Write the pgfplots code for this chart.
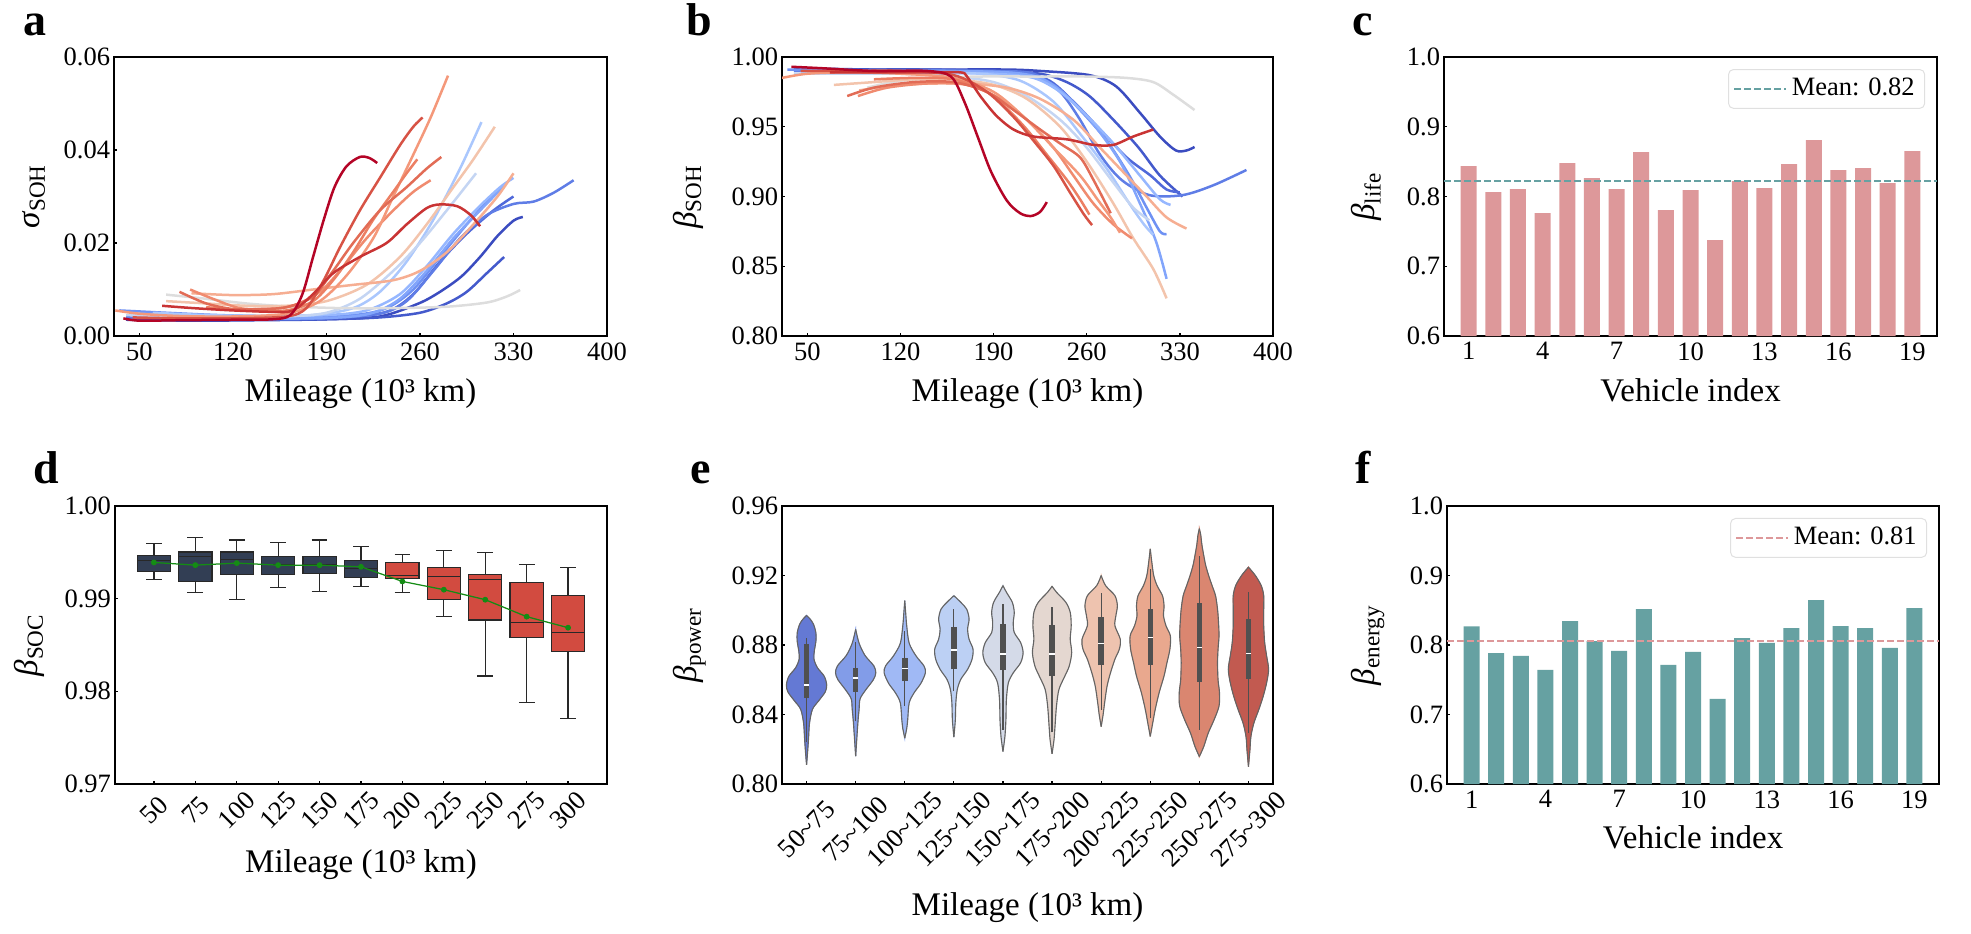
\documentclass[border=0pt]{standalone}
\usepackage{fontspec}
\setmainfont{Liberation Serif}
\usepackage{pgfplots}
\usepackage{pgfplotstable}
\pgfplotsset{compat=1.18}

\definecolor{c1}{RGB}{180,4,38}
\definecolor{c2}{RGB}{201,52,52}
\definecolor{c3}{RGB}{215,83,69}
\definecolor{c4}{RGB}{226,108,86}
\definecolor{c5}{RGB}{236,127,99}
\definecolor{c6}{RGB}{244,152,122}
\definecolor{c7}{RGB}{246,174,146}
\definecolor{c8}{RGB}{243,196,172}
\definecolor{c9}{RGB}{240,139,111}
\definecolor{c10}{RGB}{221,221,221}
\definecolor{c11}{RGB}{196,213,243}
\definecolor{c12}{RGB}{170,199,253}
\definecolor{c13}{RGB}{150,183,255}
\definecolor{c14}{RGB}{130,165,251}
\definecolor{c15}{RGB}{110,145,243}
\definecolor{c16}{RGB}{95,125,230}
\definecolor{c17}{RGB}{80,105,218}
\definecolor{c18}{RGB}{68,90,204}
\definecolor{c19}{RGB}{59,76,192}
\definecolor{barpink}{RGB}{221,152,154}
\definecolor{barteal}{RGB}{102,161,162}
\definecolor{navybox}{RGB}{50,62,84}
\definecolor{redbox}{RGB}{210,75,64}
\definecolor{boxedge}{RGB}{40,40,40}
\definecolor{meangreen}{RGB}{20,140,20}
\definecolor{vedge}{RGB}{100,100,100}
\definecolor{vin}{RGB}{80,80,80}
\definecolor{va}{RGB}{100,121,212}
\definecolor{vb}{RGB}{130,156,232}
\definecolor{vc}{RGB}{160,185,245}
\definecolor{vd}{RGB}{188,208,244}
\definecolor{ve}{RGB}{212,218,232}
\definecolor{vf}{RGB}{228,215,208}
\definecolor{vg}{RGB}{238,195,175}
\definecolor{vh}{RGB}{233,168,142}
\definecolor{vi}{RGB}{218,134,112}
\definecolor{vj}{RGB}{194,90,80}

% violin half-profiles: w = half width (category units), v = value
\pgfplotstableread{
w v
0 0.811
0.02 0.818
0.04 0.826
0.06 0.835
0.12 0.843
0.25 0.848
0.38 0.853
0.41 0.857
0.36 0.862
0.22 0.867
0.15 0.872
0.16 0.877
0.19 0.882
0.19 0.887
0.14 0.892
0.07 0.895
0 0.897
}\vA
\pgfplotstableread{
w v
0 0.816
0.03 0.829
0.05 0.837
0.07 0.843
0.09 0.849
0.20 0.854
0.36 0.860
0.41 0.864
0.37 0.868
0.19 0.874
0.07 0.881
0 0.889
}\vB
\pgfplotstableread{
w v
0 0.8264
0.04 0.832
0.06 0.837
0.09 0.8467
0.19 0.8525
0.33 0.858
0.42 0.864
0.39 0.868
0.23 0.8737
0.09 0.881
0.04 0.891
0.02 0.898
0 0.9055
}\vC
\pgfplotstableread{
w v
0 0.827
0.03 0.837
0.04 0.8467
0.07 0.8544
0.14 0.8602
0.28 0.866
0.37 0.8718
0.39 0.8776
0.31 0.8833
0.28 0.8891
0.31 0.895
0.26 0.9007
0.14 0.9046
0 0.9084
}\vD
\pgfplotstableread{
w v
0 0.8187
0.04 0.8274
0.06 0.837
0.07 0.8486
0.11 0.8583
0.21 0.864
0.36 0.8698
0.41 0.8756
0.36 0.8814
0.23 0.8872
0.21 0.893
0.23 0.8988
0.19 0.9046
0.07 0.9104
0 0.9142
}\vE
\pgfplotstableread{
w v
0 0.8174
0.04 0.8255
0.06 0.8332
0.09 0.8448
0.14 0.8544
0.26 0.8621
0.35 0.8679
0.40 0.8756
0.37 0.8833
0.39 0.8911
0.37 0.8988
0.28 0.9046
0.09 0.9104
0 0.9138
}\vF
\pgfplotstableread{
w v
0 0.833
0.04 0.840
0.07 0.8467
0.12 0.8563
0.19 0.864
0.28 0.8718
0.37 0.8776
0.39 0.8833
0.28 0.8911
0.30 0.8969
0.33 0.9026
0.28 0.9084
0.09 0.9142
0 0.920
}\vG
\pgfplotstableread{
w v
0 0.8274
0.05 0.8351
0.10 0.8428
0.18 0.8525
0.28 0.8621
0.34 0.8698
0.40 0.8776
0.41 0.8852
0.32 0.8911
0.27 0.8968
0.28 0.9026
0.25 0.9083
0.14 0.9141
0.07 0.920
0.03 0.928
0 0.9353
}\vH
\pgfplotstableread{
w v
0 0.8158
0.09 0.8216
0.18 0.8293
0.30 0.837
0.40 0.8448
0.41 0.8525
0.38 0.860
0.37 0.8698
0.38 0.8775
0.40 0.8852
0.39 0.893
0.37 0.9006
0.33 0.9083
0.26 0.9141
0.19 0.9199
0.13 0.9257
0.09 0.9314
0.05 0.938
0.03 0.943
0 0.947
}\vI
\pgfplotstableread{
w v
0 0.810
0.03 0.8197
0.05 0.8274
0.11 0.8351
0.21 0.8428
0.30 0.8505
0.37 0.8583
0.41 0.866
0.37 0.8737
0.33 0.8814
0.31 0.8911
0.31 0.9007
0.31 0.9084
0.26 0.9142
0.14 0.920
0 0.9248
}\vJ

\newcommand{\violin}[3]{%
 \addplot[fill=#3, draw=#3, line width=0.3pt, smooth, tension=0.5] table[x expr=#2+\thisrow{w}, y=v]{#1} -- cycle;
 \addplot[fill=#3, draw=#3, line width=0.3pt, smooth, tension=0.5] table[x expr=#2-\thisrow{w}, y=v]{#1} -- cycle;
 \addplot[vedge, line width=0.45pt, smooth, tension=0.5] table[x expr=#2+\thisrow{w}, y=v]{#1};
 \addplot[vedge, line width=0.45pt, smooth, tension=0.5] table[x expr=#2-\thisrow{w}, y=v]{#1};
}
\newcommand{\vstats}[6]{%
 \addplot[vin, line width=0.5pt] coordinates {(#1,#2) (#1,#6)};
 \addplot[vin, line width=2.2pt] coordinates {(#1,#3) (#1,#5)};
 \addplot[only marks, mark=-, mark size=1.1pt, mark options={white, line width=0.6pt}] coordinates {(#1,#4)};
}
% box: position, lower whisker, Q1, median, Q3, upper whisker, colour
\newcommand{\bx}[7]{%
 \pgfmathsetmacro\bxl{#1-0.4}\pgfmathsetmacro\bxr{#1+0.4}%
 \pgfmathsetmacro\cxl{#1-0.19}\pgfmathsetmacro\cxr{#1+0.19}%
 \edef\tmp{%
 \noexpand\addplot[boxedge, line width=0.5pt] coordinates {(#1,#2)(#1,#3)};
 \noexpand\addplot[boxedge, line width=0.5pt] coordinates {(#1,#5)(#1,#6)};
 \noexpand\addplot[boxedge, line width=0.5pt] coordinates {(\cxl,#2)(\cxr,#2)};
 \noexpand\addplot[boxedge, line width=0.5pt] coordinates {(\cxl,#6)(\cxr,#6)};
 \noexpand\addplot[fill=#7, draw=boxedge, line width=0.5pt] coordinates {(\bxl,#3)(\bxr,#3)(\bxr,#5)(\bxl,#5)} -- cycle;
 \noexpand\addplot[boxedge, line width=0.5pt] coordinates {(\bxl,#4)(\bxr,#4)};
 }\tmp}

\newcommand{\tickfont}{\rmfamily\fontsize{10.6}{12}\selectfont}
\pgfplotsset{
 panel/.style={
  scale only axis, anchor=south west,
  axis line style={line width=0.5pt},
  tick style={line width=0.5pt, color=black},
  major tick length=1.3pt,
  tick align=inside, tick pos=left,
  /pgf/number format/assume math mode=true,
  ticklabel style={font=\tickfont},
  yticklabel style={inner xsep=0pt, xshift=-1.4pt},
  xticklabel style={inner ysep=0pt, yshift=-2.4pt},
  label style={font=\rmfamily\fontsize{13.2}{15}\selectfont},
  scaled ticks=false,
 },
 fmt/.style={yticklabel style={/pgf/number format/fixed, /pgf/number format/fixed zerofill, /pgf/number format/precision=#1}},
 curve/.style={line width=1pt, smooth, tension=0.5},
 xl/.style={xlabel style={at={([yshift=-#1]axis description cs:0.5,0)}, anchor=base}},
 yl/.style={ylabel style={at={([xshift=-#1]axis description cs:0,0.5)}, anchor=base}},
 meanleg/.style={legend style={at={(0.976,0.957)}, anchor=north east, draw=black!12, rounded corners=2pt, fill=white, font=\tickfont, inner xsep=2pt, inner ysep=1.5pt, cells={anchor=west}},
  legend image code/.code={\draw[##1] (0pt,0pt) -- (20.7pt,0pt);}},
}

\begin{document}
\begin{tikzpicture}
\path[use as bounding box] (0,0) rectangle (788.4pt,373.2pt);

\tikzset{panlet/.style={anchor=base west, inner sep=0pt, font=\rmfamily\fontsize{18.4}{20}\selectfont\bfseries}}
\node[panlet] at (9.2pt,358.8pt) {a};
\node[panlet] at (274.4pt,358.8pt) {b};
\node[panlet] at (540.8pt,358.8pt) {c};
\node[panlet] at (13.2pt,180pt) {d};
\node[panlet] at (276pt,180pt) {e};
\node[panlet] at (542pt,180pt) {f};

% ---------------- a ----------------
\begin{axis}[panel, at={(45.6pt,238.8pt)}, width=197.2pt, height=111.6pt,
  xmin=31, xmax=400, ymin=0, ymax=0.06,
  xtick={50,120,190,260,330,400}, ytick={0,0.02,0.04,0.06}, fmt=2,
  xlabel={Mileage (10³ km)}, ylabel={\textit{σ}\textsubscript{SOH}},
  xl=26pt, yl=29.6pt]
\addplot[curve,c19] coordinates {(40,0.0035)(90,0.0033)(140,0.0034)(190,0.0036)(230,0.0042)(259,0.0070)(275,0.0095)(291,0.0128)(305,0.0170)(318,0.0215)(330,0.0248)(337,0.0256)};
\addplot[curve,c18] coordinates {(40,0.0037)(90,0.0035)(140,0.0035)(190,0.0036)(230,0.0040)(260,0.0050)(280,0.0070)(295,0.0095)(310,0.0135)(323,0.0170)};
\addplot[curve,c17] coordinates {(50,0.0045)(100,0.0040)(150,0.0038)(200,0.0040)(235,0.0052)(255,0.0090)(275,0.0160)(295,0.0220)(315,0.0270)(330,0.0300)};
\addplot[curve,c16] coordinates {(40,0.0040)(90,0.0037)(140,0.0036)(190,0.0038)(230,0.0048)(250,0.0075)(270,0.0140)(290,0.0210)(310,0.0260)(330,0.0284)(345,0.0289)(360,0.0308)(375,0.0335)};
\addplot[curve,c15] coordinates {(35,0.0055)(70,0.0050)(110,0.0045)(160,0.0042)(210,0.0045)(235,0.0060)(255,0.0100)(275,0.0170)(295,0.0240)(312,0.0295)(325,0.0330)};
\addplot[curve,c14] coordinates {(50,0.0040)(100,0.0038)(150,0.0037)(200,0.0040)(225,0.0050)(245,0.0080)(265,0.0140)(285,0.0210)(305,0.0270)(322,0.0320)};
\addplot[curve,c13] coordinates {(45,0.0048)(90,0.0045)(140,0.0043)(190,0.0045)(220,0.0055)(245,0.0090)(265,0.0150)(285,0.0220)(305,0.0280)(320,0.0320)(330,0.0340)};
\addplot[curve,c12] coordinates {(60,0.0050)(100,0.0045)(140,0.0043)(180,0.0045)(210,0.0060)(230,0.0095)(250,0.0160)(270,0.0250)(290,0.0360)(306,0.0460)};
\addplot[curve,c11] coordinates {(40,0.0045)(80,0.0042)(120,0.0040)(160,0.0042)(190,0.0050)(215,0.0080)(240,0.0140)(260,0.0200)(280,0.0270)(302,0.0350)};
\addplot[curve,c10] coordinates {(70,0.0089)(100,0.0080)(130,0.0070)(160,0.0064)(200,0.0060)(240,0.0060)(280,0.0063)(310,0.0072)(325,0.0085)(335,0.0099)};
\addplot[curve,c8] coordinates {(70,0.0075)(100,0.0070)(130,0.0065)(160,0.0065)(190,0.0075)(220,0.0110)(245,0.0170)(265,0.0240)(285,0.0320)(300,0.0380)(316,0.0450)};
\addplot[curve,c7] coordinates {(89,0.0092)(120,0.0088)(150,0.0090)(180,0.0100)(210,0.0110)(240,0.0120)(260,0.0140)(280,0.0180)(300,0.0240)(318,0.0300)(330,0.0350)};
\addplot[curve,c9] coordinates {(88,0.0100)(105,0.0080)(125,0.0060)(145,0.0058)(165,0.0065)(185,0.0095)(200,0.0140)(220,0.0210)(240,0.0270)(255,0.0310)(268,0.0335)};
\addplot[curve,c6] coordinates {(32,0.0055)(50,0.0048)(80,0.0043)(120,0.0042)(160,0.0048)(185,0.0075)(205,0.0130)(225,0.0210)(240,0.0300)(255,0.0390)(268,0.0470)(281,0.0560)};
\addplot[curve,c5] coordinates {(100,0.0062)(130,0.0055)(160,0.0055)(180,0.0075)(195,0.0120)(210,0.0180)(225,0.0250)(240,0.0310)(250,0.0350)(258,0.0380)};
\addplot[curve,c4] coordinates {(80,0.0095)(100,0.0070)(120,0.0058)(140,0.0058)(160,0.0062)(180,0.0085)(195,0.0140)(210,0.0200)(230,0.0270)(250,0.0320)(265,0.0360)(276,0.0385)};
\addplot[curve,c3] coordinates {(45,0.0040)(80,0.0038)(120,0.0038)(160,0.0042)(175,0.0060)(188,0.0120)(200,0.0190)(215,0.0270)(230,0.0340)(245,0.0410)(255,0.0450)(262,0.0470)};
\addplot[curve,c2] coordinates {(67,0.0065)(90,0.0060)(120,0.0055)(150,0.0052)(165,0.0055)(180,0.0090)(195,0.0135)(215,0.0170)(235,0.0200)(250,0.0240)(265,0.0275)(275,0.0283)(288,0.0279)(298,0.0260)(305,0.0236)};
\addplot[curve,c1] coordinates {(38,0.0038)(50,0.0033)(80,0.0034)(120,0.0035)(150,0.0036)(163,0.0045)(172,0.0090)(180,0.0170)(188,0.0250)(196,0.0320)(205,0.0365)(215,0.0385)(222,0.0383)(228,0.0372)};
\end{axis}

% ---------------- b ----------------
\begin{axis}[panel, at={(312.8pt,238.8pt)}, width=196.4pt, height=111.6pt,
  xmin=31, xmax=400, ymin=0.8, ymax=1.0,
  xtick={50,120,190,260,330,400}, ytick={0.80,0.85,0.90,0.95,1.00}, fmt=2,
  xlabel={Mileage (10³ km)}, ylabel={\textit{β}\textsubscript{SOH}},
  xl=26.3pt, yl=34.3pt]
\addplot[curve,c19] coordinates {(40,0.992)(100,0.991)(150,0.991)(200,0.991)(225,0.990)(262,0.987)(282,0.979)(300,0.960)(315,0.943)(327,0.933)(335,0.933)(341,0.9355)};
\addplot[curve,c18] coordinates {(40,0.991)(90,0.991)(140,0.991)(190,0.990)(225,0.988)(245,0.982)(262,0.972)(280,0.955)(299,0.935)(315,0.915)(332,0.900)};
\addplot[curve,c17] coordinates {(50,0.991)(100,0.990)(150,0.990)(200,0.989)(230,0.984)(250,0.968)(270,0.948)(290,0.928)(308,0.915)(320,0.905)(330,0.903)};
\addplot[curve,c16] coordinates {(40,0.990)(90,0.990)(140,0.990)(190,0.990)(220,0.988)(240,0.975)(255,0.955)(270,0.930)(286,0.912)(307,0.901)(332,0.901)(355,0.908)(380,0.919)};
\addplot[curve,c15] coordinates {(35,0.991)(70,0.991)(110,0.990)(160,0.990)(210,0.988)(235,0.980)(255,0.962)(275,0.940)(292,0.915)(305,0.892)(315,0.875)(320,0.873)};
\addplot[curve,c14] coordinates {(50,0.990)(100,0.990)(150,0.990)(200,0.989)(225,0.985)(245,0.972)(265,0.952)(285,0.925)(300,0.895)(312,0.868)(320,0.841)};
\addplot[curve,c13] coordinates {(45,0.989)(90,0.989)(140,0.989)(190,0.988)(220,0.985)(240,0.975)(260,0.958)(280,0.938)(300,0.915)(315,0.898)(323,0.894)};
\addplot[curve,c12] coordinates {(60,0.988)(100,0.988)(140,0.988)(180,0.988)(210,0.983)(235,0.968)(255,0.945)(275,0.920)(292,0.895)(303,0.880)(310,0.8725)};
\addplot[curve,c11] coordinates {(40,0.988)(80,0.988)(120,0.988)(160,0.986)(190,0.982)(215,0.972)(240,0.955)(260,0.935)(280,0.910)(295,0.892)(307,0.883)};
\addplot[curve,c10] coordinates {(95,0.978)(120,0.983)(150,0.985)(180,0.986)(220,0.986)(260,0.986)(290,0.985)(310,0.982)(325,0.973)(341,0.962)};
\addplot[curve,c8] coordinates {(70,0.980)(100,0.982)(130,0.984)(160,0.984)(190,0.980)(215,0.970)(240,0.950)(260,0.925)(280,0.895)(295,0.870)(310,0.848)(320,0.827)};
\addplot[curve,c7] coordinates {(89,0.976)(110,0.979)(140,0.981)(170,0.981)(200,0.978)(225,0.970)(250,0.955)(270,0.935)(290,0.915)(305,0.900)(320,0.885)(335,0.877)};
\addplot[curve,c9] coordinates {(88,0.972)(110,0.978)(140,0.981)(170,0.980)(195,0.970)(215,0.955)(235,0.935)(250,0.915)(265,0.895)(280,0.880)(294,0.870)};
\addplot[curve,c6] coordinates {(31,0.985)(50,0.988)(80,0.989)(120,0.988)(160,0.985)(190,0.975)(215,0.955)(235,0.935)(255,0.915)(268,0.898)(278,0.885)(285,0.874)};
\addplot[curve,c5] coordinates {(100,0.984)(130,0.985)(160,0.984)(185,0.975)(200,0.963)(215,0.948)(230,0.930)(245,0.912)(255,0.898)(262,0.887)};
\addplot[curve,c4] coordinates {(80,0.972)(100,0.978)(130,0.982)(160,0.982)(185,0.975)(205,0.962)(225,0.948)(240,0.938)(255,0.928)(265,0.912)(278,0.888)};
\addplot[curve,c3] coordinates {(45,0.990)(80,0.990)(120,0.990)(160,0.987)(185,0.975)(205,0.957)(220,0.940)(235,0.922)(248,0.902)(258,0.887)(264,0.8795)};
\addplot[curve,c2] coordinates {(67,0.989)(100,0.989)(140,0.989)(165,0.989)(170,0.986)(180,0.972)(192,0.958)(205,0.948)(220,0.943)(245,0.941)(265,0.937)(280,0.937)(295,0.943)(310,0.948)};
\addplot[curve,c1] coordinates {(38,0.993)(60,0.992)(100,0.990)(140,0.990)(158,0.986)(168,0.968)(178,0.943)(188,0.918)(200,0.897)(210,0.888)(218,0.886)(225,0.889)(230,0.896)};
\end{axis}

% ---------------- c ----------------
\begin{axis}[panel, meanleg, at={(577.6pt,238.8pt)}, width=197.2pt, height=111.6pt,
  xmin=0, xmax=20, ymin=0.6, ymax=1.0,
  xtick={1,4,7,10,13,16,19}, ytick={0.6,0.7,0.8,0.9,1.0}, fmt=1,
  xlabel={Vehicle index}, ylabel={\textit{β}\textsubscript{life}},
  xl=26.3pt, yl=27.7pt]
\addplot[ybar, bar width=0.65, fill=barpink, draw=none, forget plot] coordinates {(1,0.8436)(2,0.8062)(3,0.8105)(4,0.7761)(5,0.8477)(6,0.8263)(7,0.8105)(8,0.8635)(9,0.7804)(10,0.8091)(11,0.7375)(12,0.8220)(13,0.8119)(14,0.8463)(15,0.8807)(16,0.8377)(17,0.8406)(18,0.8191)(19,0.8649)};
\addplot[barteal, line width=0.6pt, dash pattern=on 2.8pt off 1.2pt] coordinates {(0,0.8224)(20,0.8224)};
\addlegendentry{Mean: 0.82}
\end{axis}

% ---------------- d ----------------
\begin{axis}[panel, at={(46pt,59.6pt)}, width=196.8pt, height=111.2pt,
  xmin=-0.94, xmax=10.94, ymin=0.97, ymax=1.0,
  xtick={0,1,2,3,4,5,6,7,8,9,10}, xticklabels={50,75,100,125,150,175,200,225,250,275,300},
  xticklabel style={yshift=-8.1pt, rotate=45, anchor=center},
  ytick={0.97,0.98,0.99,1.00}, fmt=2,
  xlabel={Mileage (10³ km)}, ylabel={\textit{β}\textsubscript{SOC}},
  xl=35.2pt, yl=30.8pt]
\bx{0}{0.99208}{0.99294}{0.99412}{0.99466}{0.99595}{navybox}
\bx{1}{0.99068}{0.99186}{0.99455}{0.99505}{0.99659}{navybox}
\bx{2}{0.98993}{0.99262}{0.99423}{0.99505}{0.99634}{navybox}
\bx{3}{0.99122}{0.99262}{0.99369}{0.99452}{0.99606}{navybox}
\bx{4}{0.99079}{0.99272}{0.99369}{0.99452}{0.99634}{navybox}
\bx{5}{0.99133}{0.99229}{0.99326}{0.99412}{0.99563}{navybox}
\bx{6}{0.99068}{0.99219}{0.99251}{0.99391}{0.99477}{redbox}
\bx{7}{0.98810}{0.98993}{0.99240}{0.99337}{0.99520}{redbox}
\bx{8}{0.98165}{0.98771}{0.99208}{0.99262}{0.99498}{redbox}
\bx{9}{0.97882}{0.98583}{0.98745}{0.99177}{0.99371}{redbox}
\bx{10}{0.97709}{0.98432}{0.98633}{0.99032}{0.99339}{redbox}
\addplot[meangreen, line width=0.5pt, mark=*, mark size=0.9pt, mark options={solid, fill=meangreen}] coordinates {(0,0.99391)(1,0.99362)(2,0.99384)(3,0.99362)(4,0.99362)(5,0.99344)(6,0.99186)(7,0.99097)(8,0.98989)(9,0.98806)(10,0.98687)};
\end{axis}

% ---------------- e ----------------
\begin{axis}[panel, at={(312.8pt,59.6pt)}, width=196.4pt, height=111.2pt,
  xmin=-0.5, xmax=9.5, ymin=0.80, ymax=0.96,
  xtick={0,1,2,3,4,5,6,7,8,9},
  xticklabels={50\textasciitilde 75,75\textasciitilde 100,100\textasciitilde 125,125\textasciitilde 150,150\textasciitilde 175,175\textasciitilde 200,200\textasciitilde 225,225\textasciitilde 250,250\textasciitilde 275,275\textasciitilde 300},
  xticklabel style={yshift=-15.7pt, rotate=45, anchor=center},
  ytick={0.80,0.84,0.88,0.92,0.96}, fmt=2,
  xlabel={Mileage (10³ km)}, ylabel={\textit{β}\textsubscript{power}},
  xl=52.4pt, yl=34.3pt]
\violin{\vA}{0}{va}
\violin{\vB}{1}{vb}
\violin{\vC}{2}{vc}
\violin{\vD}{3}{vd}
\violin{\vE}{4}{ve}
\violin{\vF}{5}{vf}
\violin{\vG}{6}{vg}
\violin{\vH}{7}{vh}
\violin{\vI}{8}{vi}
\violin{\vJ}{9}{vj}
\vstats{0}{0.824}{0.8496}{0.857}{0.8805}{0.884}
\vstats{1}{0.836}{0.853}{0.861}{0.867}{0.882}
\vstats{2}{0.8448}{0.8592}{0.8666}{0.8727}{0.888}
\vstats{3}{0.8534}{0.866}{0.8772}{0.8901}{0.9007}
\vstats{4}{0.8313}{0.8656}{0.8747}{0.892}{0.9036}
\vstats{5}{0.8297}{0.8621}{0.8747}{0.8915}{0.9017}
\vstats{6}{0.8428}{0.8683}{0.881}{0.8959}{0.910}
\vstats{7}{0.838}{0.8684}{0.8844}{0.9006}{0.9237}
\vstats{8}{0.8313}{0.859}{0.8785}{0.904}{0.9314}
\vstats{9}{0.8293}{0.8606}{0.875}{0.8949}{0.9107}
\end{axis}

% ---------------- f ----------------
\begin{axis}[panel, meanleg, at={(578.8pt,59.6pt)}, width=196.8pt, height=111.2pt,
  xmin=0, xmax=20, ymin=0.6, ymax=1.0,
  xtick={1,4,7,10,13,16,19}, ytick={0.6,0.7,0.8,0.9,1.0}, fmt=1,
  xlabel={Vehicle index}, ylabel={\textit{β}\textsubscript{energy}},
  xl=25.6pt, yl=28.9pt]
\addplot[ybar, bar width=0.65, fill=barteal, draw=none, forget plot] coordinates {(1,0.8267)(2,0.7885)(3,0.7842)(4,0.7641)(5,0.8344)(6,0.8057)(7,0.7914)(8,0.8517)(9,0.7713)(10,0.7900)(11,0.7225)(12,0.8100)(13,0.8029)(14,0.8244)(15,0.8646)(16,0.8273)(17,0.8244)(18,0.7957)(19,0.8531)};
\addplot[barpink, line width=0.6pt, dash pattern=on 2.8pt off 1.2pt] coordinates {(0,0.8057)(20,0.8057)};
\addlegendentry{Mean: 0.81}
\end{axis}
\end{tikzpicture}
\end{document}
